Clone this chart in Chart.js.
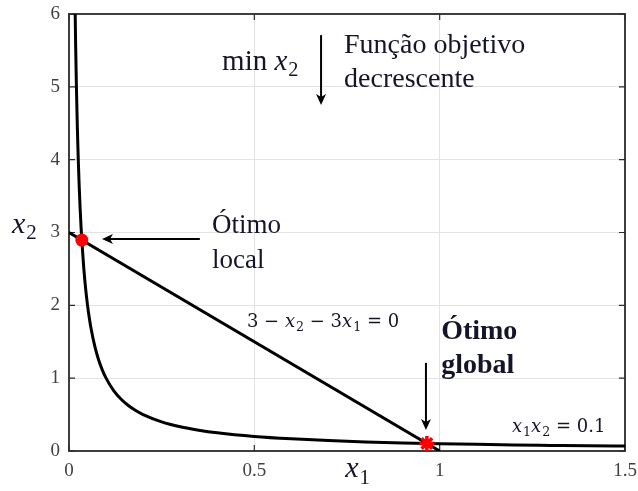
<!DOCTYPE html>
<html><head><meta charset="utf-8">
<script src="https://cdn.jsdelivr.net/npm/chart.js@4"></script>
<style>html,body{margin:0;padding:0;background:#fff}canvas{display:block}</style>
</head><body>
<canvas id="c" width="638" height="491"></canvas>
<script>
// Axis ticks
const xTicks = [0, 0.5, 1, 1.5];
const yTicks = [0, 1, 2, 3, 4, 5, 6];

// Curve x1*x2 = 0.1
const curveX1 = [0.0167, 0.018, 0.02, 0.0225, 0.025, 0.0275, 0.03, 0.0325, 0.035, 0.04, 0.045, 0.05, 0.055, 0.06, 0.07, 0.08, 0.09, 0.1, 0.12, 0.14, 0.16, 0.18, 0.2, 0.25, 0.3, 0.35, 0.4, 0.5, 0.6, 0.7, 0.8, 0.9, 1.0, 1.1, 1.2, 1.3, 1.4, 1.5];
const curveX2 = [6.0, 5.556, 5.0, 4.444, 4.0, 3.636, 3.333, 3.077, 2.857, 2.5, 2.222, 2.0, 1.818, 1.667, 1.429, 1.25, 1.111, 1.0, 0.833, 0.714, 0.625, 0.556, 0.5, 0.4, 0.333, 0.286, 0.25, 0.2, 0.167, 0.143, 0.125, 0.111, 0.1, 0.091, 0.083, 0.077, 0.071, 0.067];

// Constraint 3 - x2 - 3x1 = 0
const lineX1 = [0, 1];
const lineX2 = [3, 0];

// Intersections: local and global optimum
const localOpt = [0.0345, 2.896];
const globalOpt = [0.9655, 0.1035];

// Text annotations (data coordinates of left baseline)
const SERIF = '"Liberation Serif", "Times New Roman", serif';
const MATH = '"DejaVu Serif", serif';
const notes = [
  { x: 0.413, y: 5.23, size: 29, weight: 'normal', font: SERIF, segs: [{ t: 'min ' }, { t: 'x', it: true }, { t: '2', sub: true }] },
  { x: 0.742, y: 5.46, size: 28, weight: 'normal', font: SERIF, segs: [{ t: 'Função objetivo' }] },
  { x: 0.742, y: 5.0, size: 28, weight: 'normal', font: SERIF, segs: [{ t: 'decrescente' }] },
  { x: 0.386, y: 2.99, size: 27, weight: 'normal', font: SERIF, segs: [{ t: 'Ótimo' }] },
  { x: 0.386, y: 2.51, size: 27, weight: 'normal', font: SERIF, segs: [{ t: 'local' }] },
  { x: 1.004, y: 1.54, size: 28, weight: 'bold', font: SERIF, segs: [{ t: 'Ótimo' }] },
  { x: 1.004, y: 1.07, size: 28, weight: 'bold', font: SERIF, segs: [{ t: 'global' }] },
  { x: 0.480, y: 1.70, size: 18, weight: 'normal', font: MATH, segs: [{ t: '3 − ' }, { t: 'x', it: true }, { t: '2', sub: true }, { t: ' − 3' }, { t: 'x', it: true }, { t: '1', sub: true }, { t: ' = 0' }] },
  { x: 1.195, y: 0.26, size: 18, weight: 'normal', font: MATH, segs: [{ t: 'x', it: true }, { t: '1', sub: true }, { t: 'x', it: true }, { t: '2', sub: true }, { t: ' = 0.1' }] }
];

// Arrows: [fromX, fromY, toX, toY] in data coordinates
const arrows = [
  [0.680, 5.71, 0.680, 4.75],
  [0.353, 2.91, 0.089, 2.91],
  [0.963, 1.21, 0.963, 0.29]
];

const TEXT_COLOR = '#15152a';

function drawRich(ctx, x, y, segs, size, weight, color, family) {
  let cx = x;
  ctx.fillStyle = color;
  ctx.textBaseline = 'alphabetic';
  ctx.textAlign = 'left';
  for (const s of segs) {
    const fs = s.sub ? size * 0.7 : size;
    ctx.font = `${s.it ? 'italic ' : ''}${weight} ${fs}px ${family}`;
    const dy = s.sub ? size * 0.22 : 0;
    ctx.fillText(s.t, cx, y + dy);
    cx += ctx.measureText(s.t).width + (s.it ? 1 : 0);
  }
}

function drawArrow(ctx, x0, y0, x1, y1) {
  const ang = Math.atan2(y1 - y0, x1 - x0);
  const L = 11, W = 5;
  ctx.save();
  ctx.strokeStyle = '#000';
  ctx.fillStyle = '#000';
  ctx.lineWidth = 2;
  ctx.beginPath();
  ctx.moveTo(x0, y0);
  ctx.lineTo(x1 - Math.cos(ang) * 4, y1 - Math.sin(ang) * 4);
  ctx.stroke();
  ctx.translate(x1, y1);
  ctx.rotate(ang);
  ctx.beginPath();
  ctx.moveTo(0, 0);
  ctx.lineTo(-L, -W);
  ctx.lineTo(-L + 3, 0);
  ctx.lineTo(-L, W);
  ctx.closePath();
  ctx.fill();
  ctx.restore();
}

// Axis box with inward ticks, annotations and axis titles
const boxPlugin = {
  id: 'box',
  beforeDatasetsDraw(chart) {
    const { ctx, chartArea: a, scales } = chart;
    ctx.save();
    ctx.strokeStyle = '#2a2a2a';
    ctx.lineWidth = 1.8;
    ctx.strokeRect(a.left, a.top, a.right - a.left, a.bottom - a.top);
    ctx.lineWidth = 1.2;
    ctx.beginPath();
    for (const v of xTicks) {
      const px = scales.x.getPixelForValue(v);
      ctx.moveTo(px, a.bottom); ctx.lineTo(px, a.bottom - 6);
      ctx.moveTo(px, a.top); ctx.lineTo(px, a.top + 6);
    }
    for (const v of yTicks) {
      const py = scales.y.getPixelForValue(v);
      ctx.moveTo(a.left, py); ctx.lineTo(a.left + 6, py);
      ctx.moveTo(a.right, py); ctx.lineTo(a.right - 6, py);
    }
    ctx.stroke();
    ctx.restore();
  },
  afterDraw(chart) {
    const { ctx, chartArea: a, scales } = chart;
    ctx.save();
    for (const n of notes) {
      drawRich(ctx, scales.x.getPixelForValue(n.x), scales.y.getPixelForValue(n.y), n.segs, n.size, n.weight, TEXT_COLOR, n.font);
    }
    for (const r of arrows) {
      drawArrow(ctx, scales.x.getPixelForValue(r[0]), scales.y.getPixelForValue(r[1]),
        scales.x.getPixelForValue(r[2]), scales.y.getPixelForValue(r[3]));
    }
    // Axis titles
    drawRich(ctx, 12, scales.y.getPixelForValue(3), [{ t: 'x', it: true }, { t: '2', sub: true }], 30, 'normal', TEXT_COLOR, SERIF);
    drawRich(ctx, scales.x.getPixelForValue(0.745), a.bottom + 26, [{ t: 'x', it: true }, { t: '1', sub: true }], 30, 'normal', TEXT_COLOR, SERIF);
    ctx.restore();
  }
};

const pts = (xs, ys) => xs.map((v, i) => ({ x: v, y: ys[i] }));

new Chart(document.getElementById('c'), {
  type: 'scatter',
  data: {
    datasets: [
      { data: pts([localOpt[0]], [localOpt[1]]), pointStyle: 'circle', pointRadius: 6.5, backgroundColor: '#ff0000', borderColor: '#ff0000', borderWidth: 0, order: 0 },
      { data: pts([globalOpt[0]], [globalOpt[1]]), pointStyle: 'star', pointRadius: 7.5, borderColor: '#ff0000', backgroundColor: '#ff0000', borderWidth: 3.5, order: 0 },
      { data: pts(curveX1, curveX2), showLine: true, borderColor: '#000', borderWidth: 3, pointRadius: 0, cubicInterpolationMode: 'monotone', order: 1 },
      { data: pts(lineX1, lineX2), showLine: true, borderColor: '#000', borderWidth: 3, pointRadius: 0, order: 1 }
    ]
  },
  options: {
    responsive: false,
    animation: false,
    devicePixelRatio: 1,
    layout: { padding: { top: 14, right: 13, left: 0, bottom: 0 } },
    plugins: { legend: { display: false }, tooltip: { enabled: false } },
    scales: {
      x: {
        type: 'linear', min: 0, max: 1.5,
        afterBuildTicks: s => { s.ticks = xTicks.map(v => ({ value: v })); },
        afterFit: s => { s.height = 40; s.paddingLeft = 0; s.paddingRight = 0; },
        ticks: { padding: 9, color: '#404040', font: { family: SERIF, size: 19 }, maxRotation: 0,
          callback: v => String(v) },
        grid: { drawTicks: false, color: c => (c.tick && (c.tick.value === 0 || c.tick.value === 1.5)) ? 'rgba(0,0,0,0)' : '#e3e3e3', lineWidth: 1 },
        border: { display: false }
      },
      y: {
        type: 'linear', min: 0, max: 6,
        afterBuildTicks: s => { s.ticks = yTicks.map(v => ({ value: v })); },
        afterFit: s => { s.width = 69; s.paddingTop = 0; s.paddingBottom = 0; },
        ticks: { padding: 9, color: '#404040', font: { family: SERIF, size: 19 }, callback: v => String(v) },
        grid: { drawTicks: false, color: c => (c.tick && (c.tick.value === 0 || c.tick.value === 6)) ? 'rgba(0,0,0,0)' : '#e3e3e3', lineWidth: 1 },
        border: { display: false }
      }
    }
  },
  plugins: [boxPlugin]
});
</script>
</body></html>
